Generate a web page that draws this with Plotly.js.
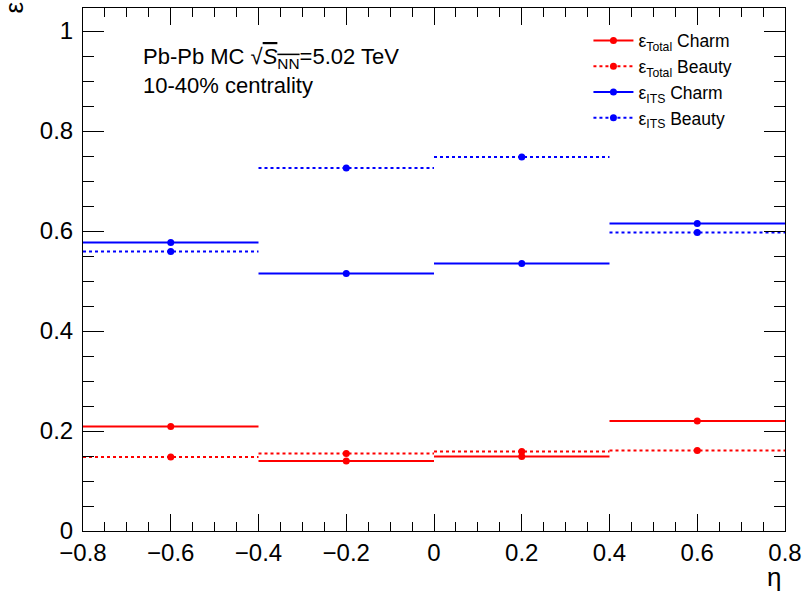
<!DOCTYPE html>
<html>
<head>
<meta charset="utf-8">
<script src="https://cdn.plot.ly/plotly-3.0.1.min.js"></script>
<style>html,body{margin:0;padding:0;background:#fff;}</style>
</head>
<body>
<div id="chart" style="width:803px;height:594px;"></div>
<script>
// bin edges in eta
const binEdges = [-0.8, -0.4, 0.0, 0.4, 0.8];
// efficiencies per bin
const totalCharm  = [0.209, 0.140, 0.149, 0.220];
const totalBeauty = [0.148, 0.155, 0.159, 0.161];
const itsCharm    = [0.577, 0.515, 0.535, 0.615];
const itsBeauty   = [0.559, 0.726, 0.748, 0.597];
const seriesNames = ['ε<sub>Total</sub> Charm', 'ε<sub>Total</sub> Beauty', 'ε<sub>ITS</sub> Charm', 'ε<sub>ITS</sub> Beauty'];
const seriesColors = ['#ff0000', '#ff0000', '#0000ff', '#0000ff'];
const seriesDash = ['solid', 'dot', 'solid', 'dot'];
const seriesData = [totalCharm, totalBeauty, itsCharm, itsBeauty];

const centers = binEdges.slice(0, -1).map((e, i) => (e + binEdges[i + 1]) / 2);

const traces = [];
seriesData.forEach((vals, s) => {
  const xs = [], ys = [];
  vals.forEach((v, i) => { xs.push(binEdges[i], binEdges[i + 1], null); ys.push(v, v, null); });
  traces.push({
    x: xs, y: ys, mode: 'lines', showlegend: false, hoverinfo: 'skip',
    line: {color: seriesColors[s], width: 2.2, dash: seriesDash[s]}
  });
  traces.push({
    x: centers, y: vals, mode: 'markers', showlegend: false,
    marker: {color: seriesColors[s], size: 7, symbol: 'circle'},
    error_y: {type: 'constant', value: 0.003, color: seriesColors[s], thickness: 2, width: 0}
  });
});
seriesData.forEach((vals, s) => {
  traces.push({
    x: [null], y: [null], mode: 'lines+markers', name: seriesNames[s],
    line: {color: seriesColors[s], width: 2.2, dash: seriesDash[s]},
    marker: {color: seriesColors[s], size: 7}
  });
});

const font = {family: 'Liberation Sans, Arial, sans-serif', color: '#000'};
const layout = {
  width: 803, height: 594,
  margin: {l: 83, r: 18, t: 8, b: 63},
  paper_bgcolor: '#fff', plot_bgcolor: '#fff',
  showlegend: true,
  font: font,
  xaxis: {
    range: [-0.8, 0.8], tick0: -0.8, dtick: 0.2, ticks: 'inside', ticklen: 17, tickwidth: 1, tickcolor: '#000',
    minor: {dtick: 0.05, ticks: 'inside', ticklen: 9, tickcolor: '#000'},
    showline: true, linecolor: '#000', linewidth: 1, mirror: 'ticks', showgrid: false, zeroline: false,
    tickfont: {family: font.family, size: 24, color: '#000'}
  },
  yaxis: {
    range: [0, 1.046], tick0: 0, dtick: 0.2, ticks: 'inside', ticklen: 21, tickwidth: 1, tickcolor: '#000',
    minor: {dtick: 0.05, ticks: 'inside', ticklen: 11, tickcolor: '#000'},
    showline: true, linecolor: '#000', linewidth: 1, mirror: 'ticks', showgrid: false, zeroline: false,
    tickfont: {family: font.family, size: 24, color: '#000'}, ticklabelstandoff: 4
  },
  legend: {
    x: 0.72, y: 0.972, xanchor: 'left', yanchor: 'top',
    bgcolor: 'rgba(0,0,0,0)', borderwidth: 0,
    font: {family: font.family, size: 17.5, color: '#000'},
    tracegroupgap: 0, itemwidth: 40
  },
  annotations: [
    {xref: 'paper', yref: 'paper', x: 0.083, y: 0.904, xanchor: 'left', yanchor: 'middle', showarrow: false,
     text: 'Pb-Pb MC √<span style="text-decoration:overline"><i>S</i><sub>NN</sub></span>=5.02 TeV',
     font: {family: font.family, size: 22, color: '#000'}},
    {xref: 'paper', yref: 'paper', x: 0.083, y: 0.851, xanchor: 'left', yanchor: 'middle', showarrow: false,
     text: '10-40% centrality', font: {family: font.family, size: 22, color: '#000'}},
    {xref: 'paper', yref: 'paper', x: -0.099, y: 1.0, xanchor: 'center', yanchor: 'middle', showarrow: false,
     text: 'ε', textangle: -90, font: {family: font.family, size: 26, color: '#000'}},
    {xref: 'paper', yref: 'paper', x: 0.985, y: -0.088, xanchor: 'center', yanchor: 'middle', showarrow: false,
     text: 'η', font: {family: font.family, size: 26, color: '#000'}}
  ]
};
Plotly.newPlot('chart', traces, layout, {displayModeBar: false, staticPlot: true});
</script>
</body>
</html>
